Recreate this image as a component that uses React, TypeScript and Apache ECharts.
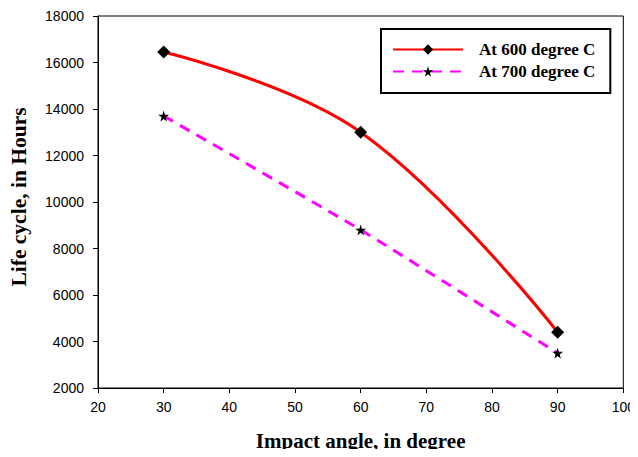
import React, { useEffect, useRef } from "react";
import * as echarts from "echarts";

const angles = [30, 60, 90];
const life600 = [16450, 13000, 4400];
const life700 = [13700, 8800, 3500];
const xTicks = { min: 20, max: 100, interval: 10 };
const yTicks = { min: 2000, max: 18000, interval: 2000 };

const STAR =
  "path://M50,0 L61,35 L98,35 L68,57 L79,91 L50,70 L21,91 L32,57 L2,35 L39,35 Z";

export default function App() {
  const ref = useRef<HTMLDivElement>(null);
  useEffect(() => {
    if (!ref.current) return;
    const chart = echarts.init(ref.current, null, { renderer: "svg" });
    const tickLabel = {
      color: "#000",
      fontFamily: "Arial, Liberation Sans, sans-serif",
      fontSize: 14,
    };
    const titleFont = {
      color: "#000",
      fontFamily: "Times New Roman, Liberation Serif, serif",
      fontWeight: "bold" as const,
      fontSize: 21,
    };
    chart.setOption({
      animation: false,
      backgroundColor: "#fff",
      grid: {
        left: 96,
        right: 11,
        top: 16,
        bottom: 69,
        show: true,
        borderColor: "#000",
        borderWidth: 1,
      },
      xAxis: {
        type: "value",
        min: xTicks.min,
        max: xTicks.max,
        interval: xTicks.interval,
        name: "Impact angle, in degree",
        nameLocation: "middle",
        nameGap: 42,
        nameTextStyle: titleFont,
        axisLine: { lineStyle: { color: "#000", width: 1 } },
        axisTick: { show: true, inside: false, length: 5, lineStyle: { color: "#000" } },
        axisLabel: { ...tickLabel, margin: 12 },
        splitLine: { show: false },
      },
      yAxis: {
        type: "value",
        min: yTicks.min,
        max: yTicks.max,
        interval: yTicks.interval,
        name: "Life cycle, in Hours",
        nameLocation: "middle",
        nameGap: 68,
        nameRotate: 90,
        nameTextStyle: { ...titleFont, fontSize: 21.5, padding: [0, 0, 0, 10] },
        axisLine: { show: true, lineStyle: { color: "#000", width: 1 } },
        axisTick: { show: true, inside: false, length: 5, lineStyle: { color: "#000" } },
        axisLabel: { ...tickLabel, margin: 14, formatter: (v: number) => String(v) },
        splitLine: { show: false },
      },
      legend: {
        left: 381,
        top: 29,
        orient: "vertical",
        backgroundColor: "#fff",
        borderColor: "#000",
        borderWidth: 2,
        padding: [12, 15, 13, 11],
        itemGap: 5,
        itemWidth: 70,
        itemHeight: 13,
        textStyle: { ...titleFont, fontSize: 17, padding: [0, 0, 0, 11] },
        data: ["At 600 degree C", "At 700 degree C"],
      },
      series: [
        {
          name: "At 600 degree C",
          type: "line",
          data: angles.map((a, i) => [a, life600[i]]),
          smooth: 0.4,
          symbol: "diamond",
          symbolSize: 13,
          itemStyle: { color: "#000" },
          lineStyle: { color: "#ff0000", width: 3 },
        },
        {
          name: "At 700 degree C",
          type: "line",
          data: angles.map((a, i) => [a, life700[i]]),
          smooth: 0.15,
          symbol: STAR,
          symbolSize: 11,
          itemStyle: { color: "#000" },
          lineStyle: { color: "#ff00ff", width: 3, type: [11, 8] },
        },
      ],
    });
    return () => chart.dispose();
  }, []);
  return <div ref={ref} style={{ width: 638, height: 457, margin: -8 }} />;
}
